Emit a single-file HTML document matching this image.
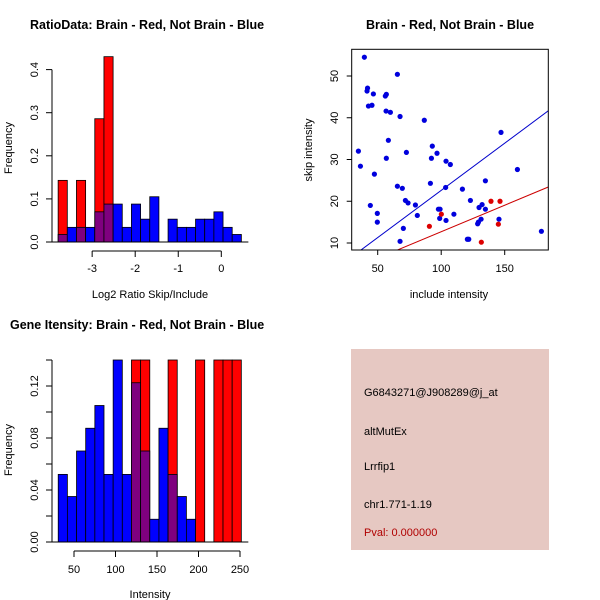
<!DOCTYPE html>
<html><head><meta charset="utf-8"><style>
html,body{margin:0;padding:0;background:#fff}
svg{display:block;font-family:"Liberation Sans",sans-serif}
</style></head><body>
<svg id="c" width="600" height="600" viewBox="0 0 600 600">
<rect x="0" y="0" width="600" height="600" fill="#fff"/>
<text x="30" y="29" font-size="12.5" font-weight="bold">RatioData: Brain - Red, Not Brain - Blue</text>
<text x="450" y="29" font-size="12.5" font-weight="bold" text-anchor="middle">Brain - Red, Not Brain - Blue</text>
<text x="10" y="329" font-size="12.5" font-weight="bold">Gene Itensity: Brain - Red, Not Brain - Blue</text>
<g id="p1"></g>
<g id="p2"></g>
<g id="p3"></g>
<g>
<rect x="351" y="349" width="198" height="201" fill="#e6c8c2"/>
<text x="364" y="396" font-size="11">G6843271@J908289@j_at</text>
<text x="364" y="435" font-size="11">altMutEx</text>
<text x="364" y="470" font-size="11">Lrrfip1</text>
<text x="364" y="508" font-size="11">chr1.771-1.19</text>
<text x="364" y="536" font-size="11" fill="#b00000">Pval: 0.000000</text>
</g>
</svg>
<script>
// Ratio histogram data
const ratioBinStart = -3.79, ratioBinWidth = 0.2128;
const ratioBlue = [0.0175,0.034,0.034,0.034,0.07,0.088,0.088,0.034,0.088,0.053,0.105,0,0.053,0.034,0.034,0.053,0.053,0.07,0.034,0.0175];
const ratioRed = [0.143,0,0.143,0,0.286,0.43,0,0,0,0,0,0,0,0,0,0,0,0,0,0];
const ratioXTicks = [-3,-2,-1,0];
const ratioYTicks = [0,0.1,0.2,0.3,0.4];
// Scatter data
const blueX = [39.5,34.8,36.4,42,41.6,42.7,45.5,46.6,47.4,44.2,49.7,49.7,56,56.8,56.6,60,58.4,56.8,65.5,67.6,65.5,69.4,72.6,71.8,73.9,79.7,81.2,70.2,67.6,86.7,93,92.3,96.7,91.5,97.8,99.1,98.8,103.5,103.8,107.2,103.8,110,116.7,123,120.6,121.7,128.7,129.3,131.4,129.8,132.2,134.8,134.8,147.1,145.5,160,178.9];
const blueY = [54.5,32,28.4,47.1,46.4,42.8,43,45.7,26.5,19,17.1,15,45.2,45.6,41.6,41.3,34.6,30.3,50.4,40.3,23.6,23.1,31.7,20.2,19.6,19.1,16.6,13.5,10.4,39.4,33.2,30.3,31.5,24.3,18.1,18.1,15.9,23.3,29.6,28.8,15.4,16.9,22.9,20.2,10.9,10.9,14.6,15,15.7,18.5,19.2,24.9,18.1,36.5,15.7,27.6,12.8];
const redX = [90.7,100.1,131.6,139.2,146.3,145];
const redY = [14,16.9,10.2,20,20,14.5];
const blueSlope = 0.226, redSlope = 0.127;
const scatXTicks = [50,100,150];
const scatYTicks = [10,20,30,40,50];
// Intensity histogram data
const intBinStart = 31, intBinWidth = 11.03;
const intBlue = [0.052,0.035,0.07,0.0875,0.105,0.052,0.14,0.052,0.1225,0.07,0.0175,0.0875,0.052,0.035,0.0175,0,0,0,0,0];
const intRed = [0,0,0,0,0,0,0,0,0.2,0.2,0,0,0.2,0,0,0.2,0,0.2,0.2,0.2];
const intXTicks = [50,100,150,200,250];
const intYTicks = [0,0.04,0.08,0.12];
const intYMinor = [0.02,0.06,0.10,0.14];

const NS="http://www.w3.org/2000/svg";
function mk(parent,tag,attrs){const e=document.createElementNS(NS,tag);for(const k in attrs)e.setAttribute(k,attrs[k]);parent.appendChild(e);return e;}
function txt(parent,x,y,s,rot,anchor){const t=mk(parent,'text',{x:x,y:y,'font-size':11,'text-anchor':anchor||'middle'});if(rot)t.setAttribute('transform','rotate(-90 '+x+' '+y+')');t.textContent=s;return t;}

// Plot 1
(function(){
const g=document.getElementById('p1');
const sx=v=>221.3+(v)*43.05, sy=v=>242-v*431;
for(let i=0;i<ratioBlue.length;i++){
  const x0=sx(ratioBinStart+i*ratioBinWidth), x1=sx(ratioBinStart+(i+1)*ratioBinWidth);
  if(ratioRed[i]>0){const r=mk(g,'rect',{x:x0,y:sy(ratioRed[i]),width:x1-x0,height:sy(0)-sy(ratioRed[i]),fill:'#ff0000',stroke:'#000','stroke-width':0.8});
    
    }
  if(ratioBlue[i]>0){const b=mk(g,'rect',{x:x0,y:sy(ratioBlue[i]),width:x1-x0,height:sy(0)-sy(ratioBlue[i]),fill:ratioRed[i]>0?'#7f007f':'#0000ff',stroke:'#000','stroke-width':0.8});
    
    }
}
mk(g,'line',{x1:sx(ratioBinStart)-7,x2:sx(ratioBinStart+20*ratioBinWidth)+7,y1:242,y2:242,stroke:'#000'});
mk(g,'line',{x1:52,x2:52,y1:sy(0),y2:sy(0.4),stroke:'#000'});
ratioYTicks.forEach(v=>{mk(g,'line',{x1:46,x2:52,y1:sy(v),y2:sy(v),stroke:'#000'});txt(g,38,sy(v),v===0?'0.0':String(v),true);});
mk(g,'line',{x1:sx(-3),x2:sx(0),y1:251,y2:251,stroke:'#000'});
ratioXTicks.forEach(v=>{mk(g,'line',{x1:sx(v),x2:sx(v),y1:251,y2:257,stroke:'#000'});txt(g,sx(v),272,String(v));});
const xl=txt(g,150,298,'Log2 Ratio Skip/Include');


const yl=txt(g,12,148,'Frequency',true);


})();

// Plot 2
(function(){
const g=document.getElementById('p2');
const sx=v=>377.7+(v-50)*1.27, sy=v=>243-(v-10)*4.175;
const L=351.7,R=548.3,T=49.3,B=250;
const cp=mk(g,'clipPath',{id:'cl2'});mk(cp,'rect',{x:L,y:T,width:R-L,height:B-T});
const xa=(L-377.7)/1.27+50, xb=(R-377.7)/1.27+50;
const bl=mk(g,'line',{x1:sx(xa),y1:sy(blueSlope*xa),x2:sx(xb),y2:sy(blueSlope*xb),stroke:'#0000cc','stroke-width':1,'clip-path':'url(#cl2)'});


const rl=mk(g,'line',{x1:sx(xa),y1:sy(redSlope*xa),x2:sx(xb),y2:sy(redSlope*xb),stroke:'#cc0000','stroke-width':1,'clip-path':'url(#cl2)'});


for(let i=0;i<blueX.length;i++){const c=mk(g,'circle',{cx:sx(blueX[i]),cy:sy(blueY[i]),r:2.6,fill:'#0000dd'});
  
  }
for(let i=0;i<redX.length;i++){const c=mk(g,'circle',{cx:sx(redX[i]),cy:sy(redY[i]),r:2.6,fill:'#dd0000'});
  
  }
mk(g,'rect',{x:L,y:T,width:R-L,height:B-T,fill:'none',stroke:'#000'});
scatXTicks.forEach(v=>{mk(g,'line',{x1:sx(v),x2:sx(v),y1:B,y2:B+5,stroke:'#000'});txt(g,sx(v),272,String(v));});
scatYTicks.forEach(v=>{mk(g,'line',{x1:L-5,x2:L,y1:sy(v),y2:sy(v),stroke:'#000'});txt(g,338,sy(v),String(v),true);});
const xl=txt(g,449,298,'include intensity');


const yl=txt(g,312,150,'skip intensity',true);


})();

// Plot 3
(function(){
const g=document.getElementById('p3');
const sx=v=>74+(v-50)*0.83, sy=v=>542-v*1300;
const top=sy(0.14);
for(let i=0;i<intBlue.length;i++){
  const x0=sx(intBinStart+i*intBinWidth), x1=sx(intBinStart+(i+1)*intBinWidth);
  if(intRed[i]>0){const h=Math.min(intRed[i],0.14);const r=mk(g,'rect',{x:x0,y:sy(h),width:x1-x0,height:sy(0)-sy(h),fill:'#ff0000',stroke:'#000','stroke-width':0.8});
    
    }
  if(intBlue[i]>0){const h=Math.min(intBlue[i],0.14);const b=mk(g,'rect',{x:x0,y:sy(h),width:x1-x0,height:sy(0)-sy(h),fill:intRed[i]>0?'#7f007f':'#0000ff',stroke:'#000','stroke-width':0.8});
    
    }
}
mk(g,'line',{x1:sx(intBinStart)-7,x2:sx(intBinStart+20*intBinWidth)+7,y1:542,y2:542,stroke:'#000'});
mk(g,'line',{x1:52,x2:52,y1:sy(0),y2:top,stroke:'#000'});
intYTicks.forEach(v=>{mk(g,'line',{x1:46,x2:52,y1:sy(v),y2:sy(v),stroke:'#000'});txt(g,38,sy(v),v.toFixed(2),true);});
intYMinor.forEach(v=>{mk(g,'line',{x1:46,x2:52,y1:sy(v),y2:sy(v),stroke:'#000'});});
mk(g,'line',{x1:sx(50),x2:sx(250),y1:551,y2:551,stroke:'#000'});
intXTicks.forEach(v=>{mk(g,'line',{x1:sx(v),x2:sx(v),y1:551,y2:557,stroke:'#000'});txt(g,sx(v),573,String(v));});
const xl=txt(g,150,598,'Intensity');


const yl=txt(g,12,450,'Frequency',true);


})();
</script>
</body></html>
